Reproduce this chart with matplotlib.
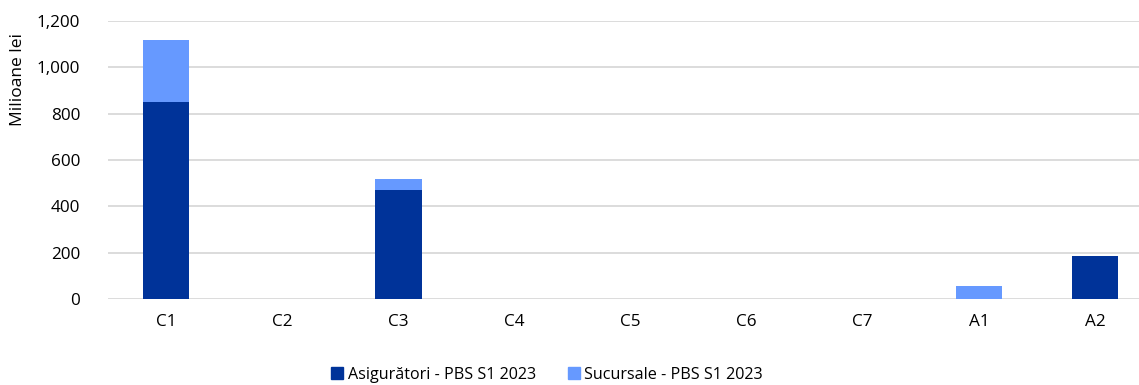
import matplotlib
matplotlib.use("Agg")
import matplotlib.pyplot as plt
from matplotlib.ticker import FuncFormatter
from matplotlib.patches import Patch

categories = ["C1", "C2", "C3", "C4", "C5", "C6", "C7", "A1", "A2"]
asiguratori = [850, 0, 470, 0, 0, 0, 0, 0, 185]
sucursale = [270, 0, 50, 0, 0, 0, 0, 58, 0]
series_names = ["Asigurători - PBS S1 2023", "Sucursale - PBS S1 2023"]
yticks = [0, 200, 400, 600, 800, 1000, 1200]

dark = "#003399"
light = "#6699FF"

plt.rcParams["font.family"] = ["Open Sans", "DejaVu Sans"]

W, H = 1139, 385
fig = plt.figure(figsize=(W / 100, H / 100), dpi=100)
left, right = 108, 1153
bottom, top = 299, 21
ax = fig.add_axes([left / W, (H - bottom) / H, (right - left) / W, (bottom - top) / H])

x = list(range(len(categories)))
ax.bar(x, asiguratori, width=0.4, color=dark, zorder=3)
ax.bar(x, sucursale, width=0.4, bottom=asiguratori, color=light, zorder=3)

ax.set_xlim(-0.5, len(categories) - 0.5)
ax.set_ylim(0, 1200)
ax.set_yticks(yticks)
ax.yaxis.set_major_formatter(FuncFormatter(lambda v, p: f"{int(v):,}"))
ax.set_xticks(x)
ax.set_xticklabels(categories)
ax.grid(axis="y", color="#D9D9D9", linewidth=1.3, zorder=0)
for s in ax.spines.values():
    s.set_visible(False)
ax.tick_params(axis="both", length=0, labelsize=12.3, colors="#000000")
ax.tick_params(axis="x", pad=11)
ax.tick_params(axis="y", pad=20)
ax.set_ylabel("Milioane lei", fontsize=12.5)
ax.yaxis.set_label_coords(-0.078, 0.79)

handles = [Patch(color=dark), Patch(color=light)]
fig.legend(handles, series_names, loc="center", bbox_to_anchor=(547 / W, 1 - 375 / H),
           ncol=2, frameon=False, fontsize=11.6, handlelength=0.75, handleheight=0.75,
           handletextpad=0.25, columnspacing=2.0)

fig.savefig("out.png", dpi=100)
